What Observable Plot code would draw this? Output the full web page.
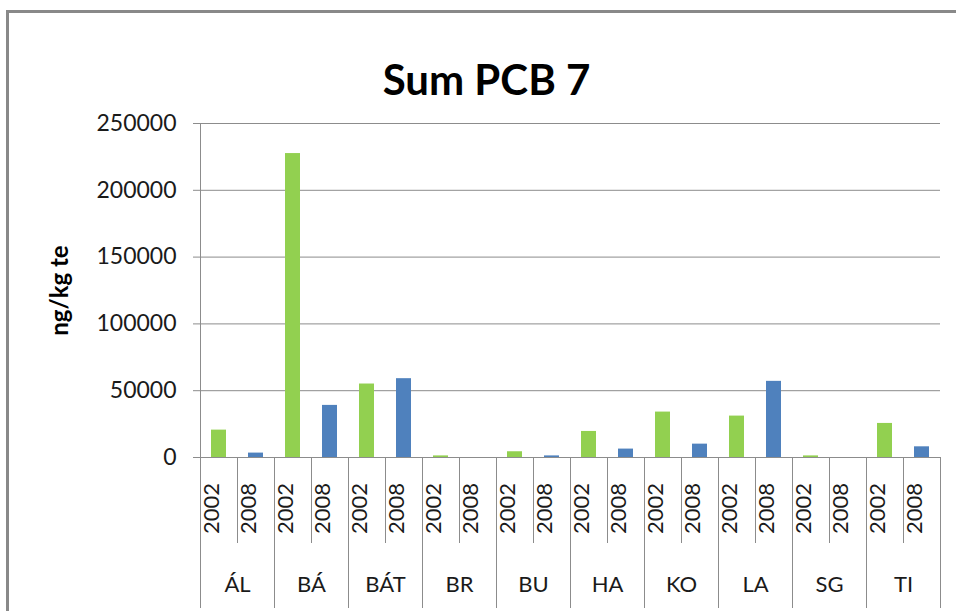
<!DOCTYPE html>
<html>
<head>
<meta charset="utf-8">
<script src="https://cdn.jsdelivr.net/npm/d3@7"></script>
<script src="https://cdn.jsdelivr.net/npm/@observablehq/plot@0.6"></script>
<style>
  html, body { margin: 0; padding: 0; background: #fff; }
  #wrap { position: relative; width: 956px; height: 611px; overflow: hidden; }
  #box { position: absolute; left: 6px; top: 10px; width: 1000px; height: 700px;
         border-left: 3px solid #898989; border-top: 3px solid #898989; box-sizing: border-box; }
  #chart { position: absolute; left: 0; top: 0; }
  svg { font-family: Lato, "Open Sans", sans-serif; }
</style>
</head>
<body>
<div id="wrap"><div id="box"></div><div id="chart"></div></div>
<script>
const title = "Sum PCB 7";
const yLabel = "ng/kg te";
const sites = ["ÁL", "BÁ", "BÁT", "BR", "BU", "HA", "KO", "LA", "SG", "TI"];
const years = ["2002", "2008"];
const values2002 = [20500, 227500, 55000, 1200, 4300, 19500, 34000, 31000, 1200, 25500];
const values2008 = [3300, 39000, 59000, 0, 1200, 6300, 10000, 57000, 0, 8000];
const yTicks = [0, 50000, 100000, 150000, 200000, 250000];
const colors = {"2002": "#92D050", "2008": "#4F81BD"};

const data = [];
sites.forEach((s, i) => {
  data.push({site: s, year: "2002", key: s + "|2002", value: values2002[i]});
  data.push({site: s, year: "2008", key: s + "|2008", value: values2008[i]});
});
const keys = data.map(d => d.key);

const width = 956, height = 611;
const marginLeft = 200, marginRight = 16, marginTop = 123, marginBottom = 154;
const slot = (width - marginLeft - marginRight) / keys.length;
const grey = "#8c8c8c";

const chart = Plot.plot({
  width, height, marginLeft, marginRight, marginTop, marginBottom,
  style: {fontFamily: "Lato, 'Open Sans', sans-serif", background: "transparent", overflow: "visible"},
  x: {type: "band", domain: keys, paddingInner: 0.6, paddingOuter: 0.3, axis: null},
  y: {domain: [0, 250000], axis: null},
  color: {domain: years, range: years.map(y => colors[y])},
  marks: [
    Plot.ruleY(yTicks, {stroke: grey, strokeWidth: 1}),
    Plot.axisY({ticks: yTicks, tickSize: 7, tickPadding: 17, stroke: grey, color: "#1a1a1a",
      fontSize: 23, tickFormat: d => String(d), label: null}),
    Plot.ruleX([keys[0]], {x: d => d, dx: -slot / 2, stroke: grey, insetBottom: -151}),
    Plot.barY(data, {x: "key", y: "value", fill: d => d.year}),
    Plot.ruleX(sites, {x: s => s + "|2008", dx: slot / 2, y1: 0, y2: 0, insetBottom: -151, stroke: grey}),
    Plot.ruleX(sites, {x: s => s + "|2008", dx: -slot / 2, y1: 0, y2: 0, insetBottom: -86, stroke: grey}),
    Plot.text(data, {x: "key", text: "year", frameAnchor: "bottom", dy: 51, rotate: -90,
      textAnchor: "middle", fontSize: 22, fill: "#1a1a1a"}),
    Plot.text(sites, {x: s => s + "|2008", dx: -slot / 2, text: s => s, frameAnchor: "bottom", dy: 134,
      textAnchor: "middle", fontSize: 22, fill: "#1a1a1a"}),
    Plot.text([title], {frameAnchor: "top", textAnchor: "middle", dx: -84, dy: -58, fontSize: 42,
      fontWeight: "bold", fill: "#000"}),
    Plot.text([yLabel], {frameAnchor: "left", textAnchor: "middle", dx: -140, rotate: -90, fontSize: 24,
      fontWeight: "bold", fill: "#000"})
  ]
});
document.getElementById("chart").appendChild(chart);
</script>
</body>
</html>
